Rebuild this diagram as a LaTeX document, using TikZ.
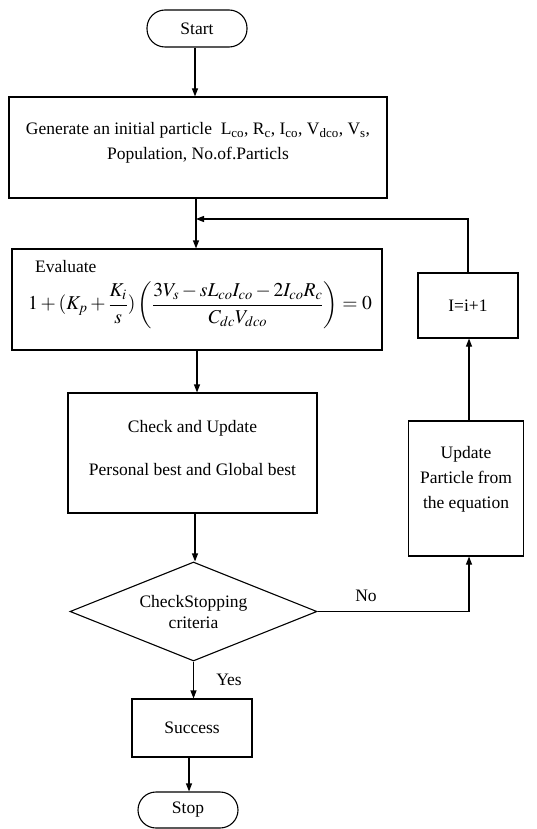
\documentclass[tikz,border=0pt]{standalone}
\usepackage{amsmath}
\IfFileExists{mathptmx.sty}{\usepackage{mathptmx}}{}
\usepackage[no-math]{fontspec}
\setmainfont{Liberation Serif}
\usetikzlibrary{arrows.meta,shapes.geometric}
\begin{document}
\begin{tikzpicture}[x=1pt,y=-1pt,
  every node/.style={font=\fontsize{17.5}{21}\selectfont},
  box/.style={draw,line width=1.1pt,rectangle,inner sep=0pt},
  term/.style={draw,line width=1.1pt,rectangle,rounded corners=18pt,inner sep=0pt},
  txt/.style={align=center,inner sep=0pt},
  arr/.style={line width=1.1pt,-{Triangle[length=8pt,width=6pt]}},
  ln/.style={line width=1.1pt}]
\useasboundingbox (0,0) rectangle (537,829);
% nodes
\node[term,minimum width=100pt,minimum height=37pt] (start) at (197,28.5) {Start};
\node[box,minimum width=378pt,minimum height=101pt] (gen) at (198,147.5) {};
\node[txt] (gent) at (198,143) {Generate an initial particle\ \ L\textsubscript{co}, R\textsubscript{c}, I\textsubscript{co}, V\textsubscript{dco}, V\textsubscript{s},\\[4pt]Population, No.of.Particls};
\node[box,minimum width=370pt,minimum height=101pt] (eval) at (197,299.5) {};
\node[txt,anchor=base west] (evalt) at (35,272) {Evaluate};
\node[txt,font=\fontsize{19.6}{24}\selectfont] (eq) at (200,305) {$\displaystyle 1+(K_{p}+\frac{K_{i}}{s})\left(\frac{3V_{s}-sL_{co}I_{co}-2I_{co}R_{c}}{C_{dc}V_{dco}}\right)=0$};
\node[box,minimum width=249pt,minimum height=120pt] (chk) at (192.5,453) {};
\node[txt] (chkt) at (192.5,448) {Check and Update\\[22pt]Personal best and Global best};
\node[draw,diamond,line width=1.1pt,minimum width=247pt,minimum height=99pt,inner sep=0pt] (dia) at (193.5,611.5) {};
\node[txt] (diat) at (193.5,612) {CheckStopping\\criteria};
\node[box,minimum width=115pt,minimum height=135pt] (upd) at (466,488.5) {};
\node[txt] (updt) at (466,479) {Update\\[4pt]Particle from\\[4pt]the equation};
\node[box,minimum width=100pt,minimum height=65pt] (ibox) at (468,305.5) {I=i+1};
\node[box,minimum width=120pt,minimum height=58pt] (succ) at (192,728) {Success};
\node[term,minimum width=100pt,minimum height=36pt] (stop) at (188,810) {Stop};
\node[txt] (yes) at (229,680) {Yes};
\node[txt] (no) at (366,596) {No};
\coordinate (j) at (196,219);
% connectors
\draw[arr] (start.south -| 195,0) -- (gen.north -| 195,0);
\draw[arr] (gen.south -| 196,0) -- (eval.north -| 196,0);
\draw[arr] (ibox.north) |- (j);
\draw[arr] (eval.south -| 197,0) -- (chk.north -| 197,0);
\draw[arr] (chk.south -| 195,0) -- (dia.north -| 195,0);
\draw[arr] (dia.east) -| (upd.south -| 469,0);
\draw[arr] (upd.north -| 469,0) -- (ibox.south -| 469,0);
\draw[arr] (dia.south) -- (succ.north -| dia.south);
\draw[arr] (succ.south -| 189,0) -- (stop.north -| 189,0);
\end{tikzpicture}
\end{document}
